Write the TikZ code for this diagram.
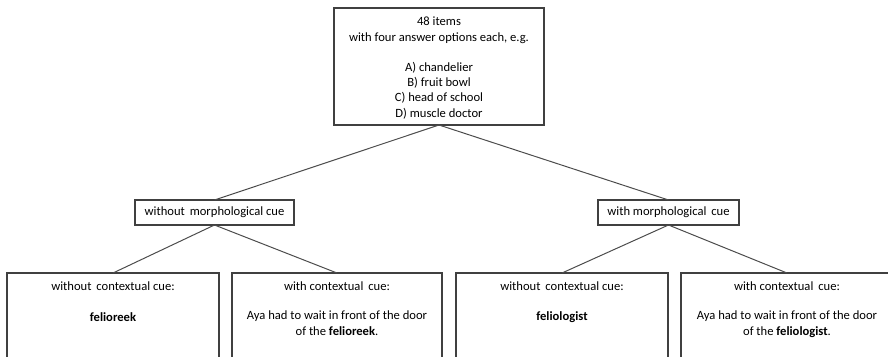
\documentclass[tikz,border=0pt]{standalone}
\usepackage{fontspec}
\setmainfont{Carlito}
\begin{document}
\begin{tikzpicture}[x=1pt,y=-1pt,
  box/.style={draw=black!75,line width=1.1pt,inner sep=0pt,outer sep=0pt},
  txt/.style={inner sep=0pt,align=center,font=\fontsize{12.6}{15.2}\selectfont,text=black},
  conn/.style={draw=black!70,line width=1pt}]
\useasboundingbox (0,0) rectangle (888,356);
\clip (0,0) rectangle (888,356);
% top
\node[box,minimum width=210,minimum height=117] (top) at (439,66.5) {};
\node[txt] (toptxt) at (439,68) {48 items\\with four answer options each, e.g.\\[15.2pt]A) chandelier\\B) fruit bowl\\C) head of school\\D) muscle doctor};
% middle
\node[box,minimum width=159,minimum height=25] (ml) at (214.5,212.5) {};
\node[txt] (mltxt) at (214.5,212.5) {without\, morphological cue};
\node[box,minimum width=141,minimum height=25] (mr) at (668.5,212.5) {};
\node[txt] (mrtxt) at (668.5,212.5) {with morphological\, cue};
% bottom boxes
\node[box,anchor=north,minimum width=212,minimum height=120] (b1) at (113,273) {};
\node[box,anchor=north,minimum width=210,minimum height=120] (b2) at (337,273) {};
\node[box,anchor=north,minimum width=212,minimum height=120] (b3) at (562,273) {};
\node[box,anchor=north,minimum width=212,minimum height=120] (b4) at (787,273) {};
\node[txt] (b1a) at (113,286) {without\, contextual cue:};
\node[txt] (b1b) at (113,317) {\textbf{felioreek}};
\node[txt] (b2a) at (337,286) {with contextual\, cue:};
\node[txt,anchor=north] (b2b) at (337,311) {Aya had to wait in front of the door\\of the \textbf{felioreek}.};
\node[txt] (b3a) at (562,286) {without\, contextual cue:};
\node[txt] (b3b) at (562,317) {\textbf{feliologist}};
\node[txt] (b4a) at (787,286) {with contextual\, cue:};
\node[txt,anchor=north] (b4b) at (787,311) {Aya had to wait in front of the door\\of the \textbf{feliologist}.};
% connectors
\draw[conn] (top.south) -- (ml.north);
\draw[conn] (top.south) -- (mr.north);
\draw[conn] (ml.south) -- (b1.north);
\draw[conn] (ml.south) -- (b2.north);
\draw[conn] (mr.south) -- (b3.north);
\draw[conn] (mr.south) -- (b4.north);
\end{tikzpicture}
\end{document}
